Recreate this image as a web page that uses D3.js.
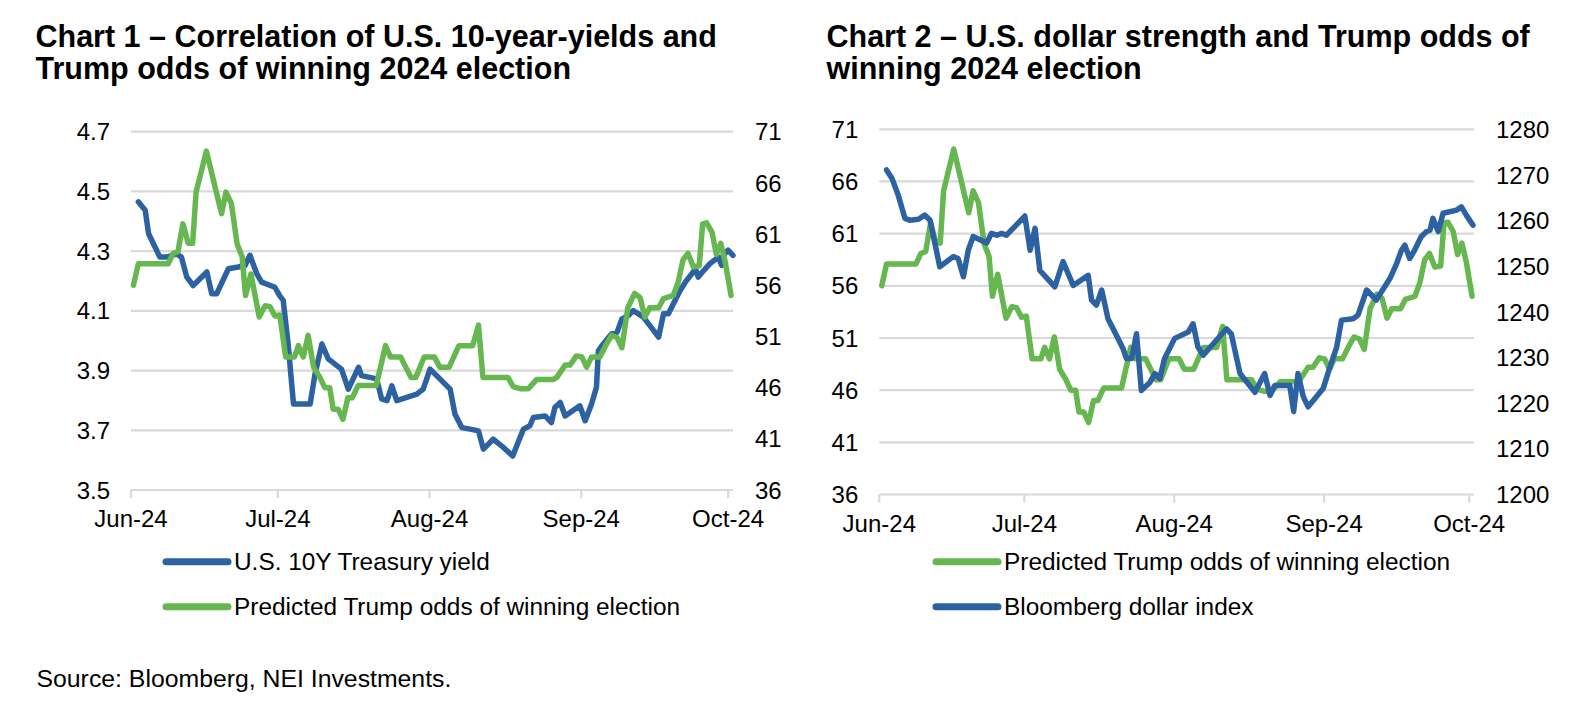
<!DOCTYPE html>
<html><head><meta charset="utf-8">
<script src="https://cdn.jsdelivr.net/npm/d3@7"></script>
<style>
body{margin:0;background:#fff}
svg{display:block}
text{font-family:"Liberation Sans",Arial,Helvetica,sans-serif;fill:#000}
</style>
</head><body>
<svg id="c" width="1596" height="722"></svg>
<script>
// ---------- data (x = days after 1 Jun 2024) ----------
const monthTicks = ["2024-06-01","2024-07-01","2024-08-01","2024-09-01","2024-10-01"];

const oddsDay = [0.5,1.5,7.6,8.6,9.6,10.6,11.7,12.6,13.3,15.4,18.5,19.4,20.5,21.7,22.7,23.4,24.5,26.2,27.4,28.4,29.4,30.4,31.6,33.4,34.2,35.2,36.2,37.3,38.6,39.6,40.6,41.3,42.3,43.3,44.3,45.2,46.4,50.1,52.0,53.0,55.1,57.2,58.2,59.9,62.0,63.1,65.0,67.0,69.8,71.0,71.9,77.0,78.1,79.5,81.2,82.9,86.3,87.0,88.7,89.7,91.0,92.1,93.1,94.1,95.8,97.2,98.2,99.3,100.3,101.5,102.9,104.0,105.0,106.0,107.8,108.8,110.8,111.8,112.8,113.8,114.9,116.1,116.8,117.6,118.7,119.6,120.5,121.4,122.6];
const oddsVal = [56.0,58.1,58.1,59.1,59.3,62.0,60.1,60.1,65.1,69.1,63.0,65.1,64.0,60.0,58.8,55.0,57.1,52.9,54.0,53.9,53.0,53.1,49.0,49.0,50.1,49.0,51.1,48.0,47.0,46.0,46.0,43.9,43.9,42.9,45.0,45.0,46.2,46.2,50.1,49.0,49.0,47.0,47.0,49.0,49.0,48.0,48.0,50.1,50.1,52.1,47.0,47.0,46.1,45.9,45.9,46.8,46.8,47.0,48.2,48.2,49.1,49.0,48.0,49.0,49.0,50.3,51.1,50.9,49.9,53.8,55.2,54.8,52.9,53.8,53.8,54.7,55.0,56.3,58.5,59.1,57.8,57.9,62.0,62.1,61.2,59.0,60.1,58.3,55.0];

const yieldDay = [1.5,2.9,3.6,5.9,7.3,9.3,10.3,11.4,12.7,15.5,16.5,17.5,19.9,21.9,23.3,24.3,25.7,26.7,29.4,30.4,31.1,32.1,33.2,36.6,37.6,39.0,40.3,43.0,44.4,46.5,47.1,50.2,51.2,52.3,53.3,54.3,58.4,59.7,61.1,62.8,65.2,66.2,67.6,69.3,71.0,72.0,74.0,75.7,78.0,79.1,80.2,81.5,82.2,84.6,85.9,86.6,87.7,88.7,91.7,92.8,94.1,95.1,95.5,96.5,98.2,99.3,100.3,101.6,102.6,104.7,107.8,108.8,109.8,110.8,112.2,113.5,114.6,115.3,115.9,117.0,118.3,120.0,120.7,121.0,122.0,123.0];
const yieldVal = [4.465,4.437,4.358,4.28,4.28,4.291,4.28,4.213,4.185,4.23,4.157,4.157,4.241,4.247,4.252,4.286,4.224,4.196,4.179,4.15,4.135,3.989,3.788,3.788,3.888,3.989,3.939,3.905,3.838,3.911,3.883,3.872,3.805,3.799,3.849,3.799,3.821,3.838,3.905,3.877,3.838,3.754,3.709,3.704,3.698,3.637,3.670,3.648,3.614,3.66,3.704,3.715,3.743,3.748,3.726,3.776,3.793,3.748,3.782,3.732,3.788,3.844,3.967,3.989,4.023,4.028,4.073,4.084,4.101,4.079,4.012,4.09,4.09,4.123,4.168,4.202,4.224,4.241,4.213,4.235,4.258,4.28,4.252,4.286,4.303,4.286];

const dxyDay = [1.5,2.6,3.9,5.3,6.3,8.1,9.4,10.5,11.5,12.5,15.3,16.3,17.4,18.4,19.4,22.2,23.2,24.3,25.3,26.3,30.1,31.2,32.2,33.2,36.3,38.0,40.1,43.2,43.9,44.9,46.0,47.3,48.7,50.4,51.1,52.2,53.2,54.2,56.0,57.0,58.0,59.0,61.1,63.9,64.9,65.9,67.0,71.8,72.8,74.6,77.7,79.7,80.8,81.8,84.9,85.7,86.6,87.7,88.7,91.8,93.2,94.6,95.6,98.0,99.0,100.8,102.8,105.6,107.0,108.0,108.7,109.7,110.7,112.1,113.2,113.9,114.5,115.6,116.6,119.4,120.4,121.4,122.8];
const dxyVal = [1271.1,1269.3,1265.6,1260.5,1260.1,1260.3,1261.2,1260.1,1255.0,1249.9,1252.1,1251.7,1247.7,1253.5,1256.5,1255.1,1257.2,1256.8,1257.2,1256.8,1261.0,1253.5,1258.3,1249.1,1245.5,1251.0,1245.8,1248.0,1242.6,1241.5,1244.8,1238.5,1235.6,1232.0,1229.8,1229.8,1235.2,1222.8,1224.6,1226.5,1225.4,1229.8,1234.2,1235.6,1237.4,1232.3,1230.5,1236.3,1235.2,1226.5,1222.4,1226.5,1221.7,1223.9,1223.9,1218.2,1226.5,1221.4,1219.2,1223.2,1227.9,1232.3,1238.2,1238.5,1239.3,1244.8,1242.6,1247.3,1250.6,1253.5,1254.6,1251.7,1253.5,1256.5,1257.6,1257.9,1260.5,1257.6,1261.6,1262.3,1263.0,1261.2,1259.0];

const yieldTicks = [3.5,3.7,3.9,4.1,4.3,4.5,4.7];
const oddsTicks = [36,41,46,51,56,61,66,71];
const dxyTicks = [1200,1210,1220,1230,1240,1250,1260,1270,1280];

const title1 = ["Chart 1 \u2013 Correlation of U.S. 10-year-yields and","Trump odds of winning 2024 election"];
const title2 = ["Chart 2 \u2013 U.S. dollar strength and Trump odds of","winning 2024 election"];
const sourceText = "Source: Bloomberg, NEI Investments.";

const BLUE = "#2d62a2", GREEN = "#66b74f", GRID = "#d9d9d9";

// ---------- helpers ----------
const start = Date.UTC(2024,5,1);
const toDate = d => new Date(start + d*864e5);
const series = (days, vals) => days.map((d,i)=>({date:toDate(d), v:vals[i]}));

const svg = d3.select("#c");

function panel(o){
  const g = svg.append("g");
  const x = d3.scaleUtc().domain([toDate(0), toDate(123)]).range([o.left,o.right]);
  const yL = d3.scaleLinear().domain(d3.extent(o.leftTicks)).range([o.bottom,o.top]);
  const yR = d3.scaleLinear().domain(d3.extent(o.rightTicks)).range([o.bottom,o.top]);

  g.selectAll("line.grid").data(o.leftTicks).join("line")
    .attr("x1",o.left).attr("x2",o.right)
    .attr("y1",d=>yL(d)).attr("y2",d=>yL(d))
    .attr("stroke",GRID).attr("stroke-width",2.2);

  const mt = monthTicks.map(s=>new Date(s+"T00:00:00Z"));
  g.selectAll("line.xt").data(mt).join("line")
    .attr("x1",d=>x(d)).attr("x2",d=>x(d))
    .attr("y1",o.bottom).attr("y2",o.bottom+8)
    .attr("stroke",GRID).attr("stroke-width",2.2);
  const fmt = d3.utcFormat("%b-%y");
  g.selectAll("text.xl").data(mt).join("text")
    .attr("x",d=>x(d)).attr("y",o.bottom+37)
    .attr("text-anchor","middle").attr("font-size",24)
    .text(d=>fmt(d));

  g.selectAll("text.yl").data(o.leftTicks).join("text")
    .attr("x",o.left-21).attr("y",d=>yL(d)).attr("dy","0.36em")
    .attr("text-anchor","end").attr("font-size",24)
    .text(o.leftFmt);
  g.selectAll("text.yr").data(o.rightTicks).join("text")
    .attr("x",o.right+22).attr("y",d=>yR(d)).attr("dy","0.36em")
    .attr("text-anchor","start").attr("font-size",24)
    .text(o.rightFmt);

  o.series.forEach(s=>{
    const y = s.axis==="left" ? yL : yR;
    g.append("path").datum(s.data)
      .attr("fill","none").attr("stroke",s.color).attr("stroke-width",5.5)
      .attr("stroke-linejoin","round").attr("stroke-linecap","round")
      .attr("d", d3.line().x(d=>x(d.date)).y(d=>y(d.v)));
  });

  o.legend.forEach((l,i)=>{
    const ly = o.legendY + i*45;
    g.append("line").attr("x1",o.legendX).attr("x2",o.legendX+62)
      .attr("y1",ly).attr("y2",ly)
      .attr("stroke",l.color).attr("stroke-width",7).attr("stroke-linecap","round");
    g.append("text").attr("x",o.legendX+68).attr("y",ly).attr("dy","0.36em")
      .attr("font-size",24.4).text(l.name);
  });

  o.title.forEach((t,i)=>{
    g.append("text").attr("x",o.titleX).attr("y",46.7+i*31.8)
      .attr("font-size",30.5).attr("font-weight","bold").text(t);
  });
}

const odds = series(oddsDay, oddsVal);

panel({
  left:131, right:733, top:131.7, bottom:490,
  leftTicks:yieldTicks, rightTicks:oddsTicks,
  leftFmt:d3.format(".1f"), rightFmt:d3.format("d"),
  series:[
    {data:series(yieldDay,yieldVal), axis:"left", color:BLUE},
    {data:odds, axis:"right", color:GREEN}
  ],
  legend:[{name:"U.S. 10Y Treasury yield",color:BLUE},{name:"Predicted Trump odds of winning election",color:GREEN}],
  legendX:166, legendY:561.7,
  title:title1, titleX:35.5
});

panel({
  left:879.3, right:1474, top:129.3, bottom:494.5,
  leftTicks:oddsTicks, rightTicks:dxyTicks,
  leftFmt:d3.format("d"), rightFmt:d3.format("d"),
  series:[
    {data:odds, axis:"left", color:GREEN},
    {data:series(dxyDay,dxyVal), axis:"right", color:BLUE}
  ],
  legend:[{name:"Predicted Trump odds of winning election",color:GREEN},{name:"Bloomberg dollar index",color:BLUE}],
  legendX:936, legendY:561.7,
  title:title2, titleX:826.5
});

svg.append("text").attr("x",36.5).attr("y",686.5).attr("font-size",24.8).text(sourceText);
</script>
</body></html>
